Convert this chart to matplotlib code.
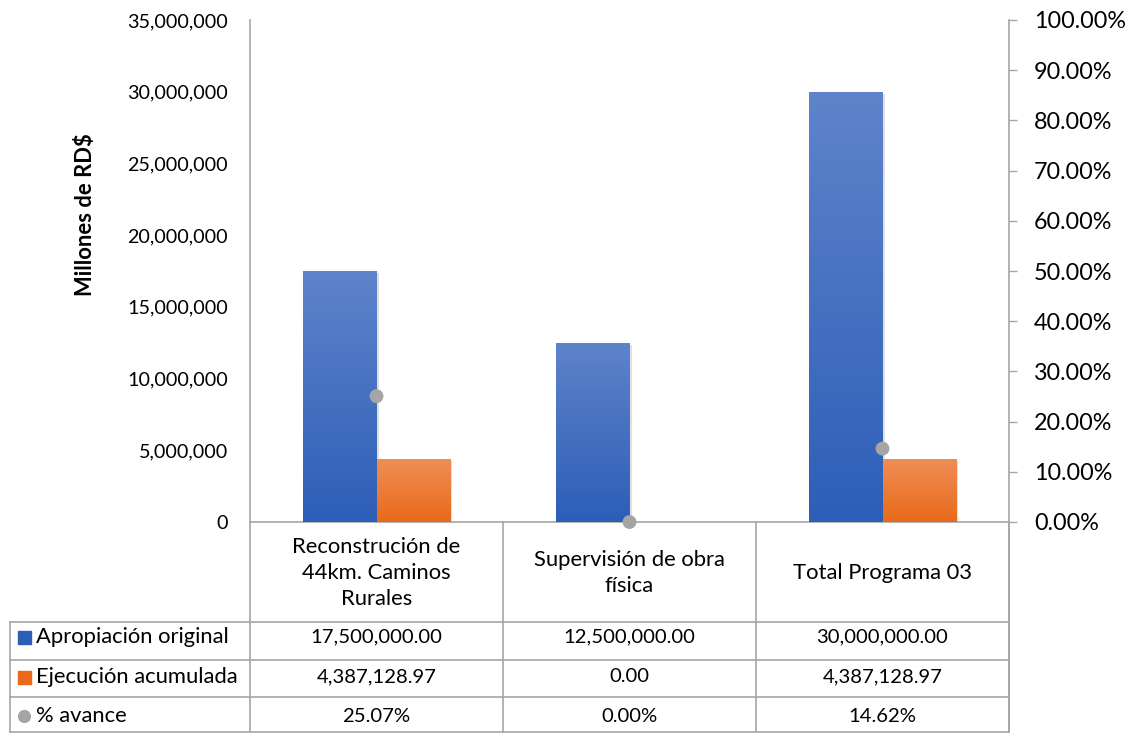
import matplotlib
matplotlib.use("Agg")
import matplotlib.pyplot as plt
import numpy as np
from matplotlib import patheffects as pe
from matplotlib.transforms import blended_transform_factory
from matplotlib.ticker import FuncFormatter, MultipleLocator

categories = ["Reconstrución de\n44km. Caminos\nRurales", "Supervisión de obra\nfísica", "Total Programa 03"]
apropiacion = [17500000.00, 12500000.00, 30000000.00]
ejecucion = [4387128.97, 0.00, 4387128.97]
avance = [0.2507, 0.0, 0.1462]
series_names = ["Apropiación original", "Ejecución acumulada", "% avance"]
apropiacion_labels = ["17,500,000.00", "12,500,000.00", "30,000,000.00"]
ejecucion_labels = ["4,387,128.97", "0.00", "4,387,128.97"]
avance_labels = ["25.07%", "0.00%", "14.62%"]

plt.rcParams['font.family'] = ['Lato', 'DejaVu Sans']

W, H = 1133, 733
fig = plt.figure(figsize=(W / 100, H / 100), dpi=100)
L, R, T, B = 250, 1009, 20, 522
ax = fig.add_axes([L / W, 1 - B / H, (R - L) / W, (B - T) / H])
ax2 = ax.twinx()

grid_c = "#A6A6A6"
blue_top, blue_bot = np.array([0x5E, 0x84, 0xCB]) / 255, np.array([0x2D, 0x5E, 0xB7]) / 255
or_top, or_bot = np.array([0xF0, 0x8D, 0x55]) / 255, np.array([0xE8, 0x6A, 0x1A]) / 255

x = np.arange(len(categories))
w = 0.29
shadow = [pe.SimplePatchShadow(offset=(1.5, -1.5), shadow_rgbFace="#000000", alpha=0.12), pe.Normal()]
b1 = ax.bar(x - w / 2, apropiacion, w, color=blue_bot, path_effects=shadow, zorder=2)
b2 = ax.bar(x + w / 2, ejecucion, w, color=or_bot, path_effects=shadow, zorder=2)


def grad(bars, top, bot):
    g = np.linspace(0, 1, 256)[:, None, None]
    img = top[None, None, :] * (1 - g) + bot[None, None, :] * g
    for bar in bars:
        if bar.get_height() <= 0:
            continue
        x0, y0 = bar.get_x(), bar.get_y()
        im = ax.imshow(img, extent=[x0, x0 + bar.get_width(), y0, y0 + bar.get_height()],
                       aspect='auto', zorder=3, interpolation='bilinear')
        im.set_clip_path(bar)


ax.set_xlim(-0.5, len(categories) - 0.5)
ax.set_ylim(0, 35000000)
grad(b1, blue_top, blue_bot)
grad(b2, or_top, or_bot)
ax.set_ylim(0, 35000000)
ax.set_xlim(-0.5, len(categories) - 0.5)

ax2.plot(x, avance, linestyle='none', marker='o', markersize=10, color="#A5A5A5",
         markeredgewidth=0, zorder=5, clip_on=False,
         path_effects=[pe.SimpleLineShadow(offset=(1.5, -1.5), shadow_color="#000000", alpha=0.15), pe.Normal()])
ax2.set_ylim(0, 1)

ax.yaxis.set_major_locator(MultipleLocator(5000000))
ax.yaxis.set_major_formatter(FuncFormatter(lambda v, p: f"{v:,.0f}"))
ax.tick_params(axis='y', length=0, pad=16, labelsize=14.2, colors="#000000")
ax.set_xticks([])
ax2.yaxis.set_major_locator(MultipleLocator(0.1))
ax2.yaxis.set_major_formatter(FuncFormatter(lambda v, p: f"{v * 100:.2f}%"))
ax2.tick_params(axis='y', direction='out', length=6, width=1, color=grid_c, pad=12, labelsize=16.8)
ax2.set_xticks([])

for a in (ax, ax2):
    a.spines["top"].set_visible(False)
    for s in ("left", "right", "bottom"):
        a.spines[s].set_color(grid_c)
        a.spines[s].set_linewidth(1.2)
ax.spines["right"].set_visible(False)
ax2.spines["left"].set_visible(False)
ax2.spines["bottom"].set_visible(False)

fig.text(85 / W, 1 - 215 / H, "Millones de RD$", rotation=90, ha='center', va='center',
         fontsize=15.8, fontweight='bold')

# data table
tr = blended_transform_factory(ax.transData, fig.transFigure)
def fy(y):
    return 1 - y / H
def fx(px):
    return px / W

line_kw = dict(color=grid_c, linewidth=1.2, clip_on=False)
for yy in (622, 660, 697, 732):
    fig.add_artist(plt.Line2D([fx(10), fx(R)], [fy(yy), fy(yy)], **line_kw))
fig.add_artist(plt.Line2D([fx(10), fx(10)], [fy(622), fy(732)], **line_kw))
fig.add_artist(plt.Line2D([fx(L), fx(L)], [fy(B), fy(732)], **line_kw))
for xb in np.arange(0.5, len(categories) - 0.5 + 1e-9, 1.0):
    fig.add_artist(plt.Line2D([xb, xb], [fy(B), fy(732)], transform=tr, **line_kw))
fig.add_artist(plt.Line2D([fx(R), fx(R)], [fy(B), fy(732)], **line_kw))

fs = 14.6
for i, c in enumerate(categories):
    fig.text(x[i], fy(573), c, transform=tr, ha='center', va='center', fontsize=15.8, linespacing=1.4)

rows_y = [637, 677, 716]
for i in range(len(categories)):
    fig.text(x[i], fy(rows_y[0]), apropiacion_labels[i], transform=tr, ha='center', va='center', fontsize=fs)
    fig.text(x[i], fy(rows_y[1]), ejecucion_labels[i], transform=tr, ha='center', va='center', fontsize=fs)
    fig.text(x[i], fy(rows_y[2]), avance_labels[i], transform=tr, ha='center', va='center', fontsize=fs)

for yy, name in zip(rows_y, series_names):
    fig.text(fx(36), fy(yy), name, ha='left', va='center', fontsize=15.8)

fig.add_artist(plt.Rectangle((fx(18), fy(rows_y[0] + 7)), 13 / W, 13 / H, color=blue_bot))
fig.add_artist(plt.Rectangle((fx(18), fy(rows_y[1] + 7)), 13 / W, 13 / H, color=or_bot))
fig.add_artist(plt.Line2D([fx(24)], [fy(rows_y[2])], marker='o', markersize=9.5, color="#A5A5A5",
                          markeredgewidth=0, linestyle='none'))

fig.savefig("out.png", dpi=100)
